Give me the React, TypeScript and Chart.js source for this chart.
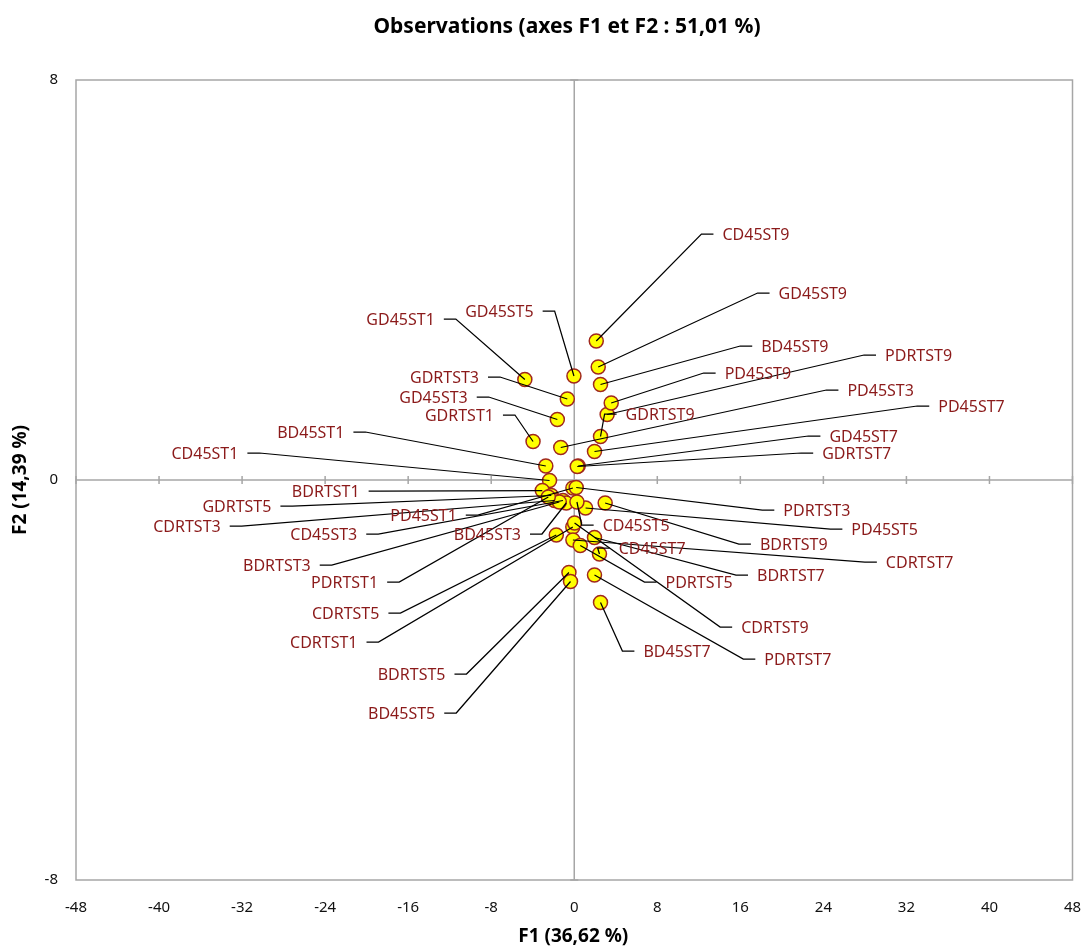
import React, { useEffect, useRef } from "react";
import { Chart, registerables } from "chart.js";
Chart.register(...registerables);

const chartTitle = "Observations (axes F1 et F2 : 51,01 %)";
const xTitle = "F1 (36,62 %)";
const yTitle = "F2 (14,39 %)";

const xTicks = [-48, -40, -32, -24, -16, -8, 0, 8, 16, 24, 32, 40, 48];
const yTicks = [-8, 0, 8];

const names = [
  "CD45ST9", "GD45ST9", "BD45ST9", "PDRTST9", "PD45ST9", "PD45ST3", "PD45ST7", "GDRTST9", "GD45ST7", "GDRTST7",
  "GD45ST1", "GD45ST5", "GDRTST3", "GD45ST3", "GDRTST1", "BD45ST1", "CD45ST1",
  "BDRTST1", "GDRTST5", "CDRTST3", "PD45ST1", "CD45ST3", "BD45ST3", "BDRTST3", "PDRTST1", "CDRTST5", "CDRTST1", "BDRTST5", "BD45ST5",
  "PDRTST3", "PD45ST5", "CD45ST5", "BDRTST9", "CD45ST7", "CDRTST7", "BDRTST7", "PDRTST5", "CDRTST9", "BD45ST7", "PDRTST7",
];

const f1 = [
  2.12, 2.31, 2.53, 3.17, 3.56, -1.3, 1.95, 2.53, 0.38, 0.29,
  -4.76, -0.03, -0.67, -1.63, -3.97, -2.74, -2.38,
  -3.08, -2.21, -1.89, -0.13, -1.09, -0.77, -1.44, -2.5, -1.73, -0.14, -0.51, -0.36,
  0.19, 1.09, 0.26, 2.98, 2.43, -0.13, 1.95, 0.58, 0.03, 2.53, 1.95,
];

const f2 = [
  2.78, 2.26, 1.91, 1.31, 1.54, 0.65, 0.57, 0.87, 0.28, 0.27,
  2.01, 2.08, 1.62, 1.21, 0.77, 0.28, -0.01,
  -0.21, -0.31, -0.41, -0.16, -0.41, -0.46, -0.44, -0.34, -1.1, -0.94, -1.85, -2.03,
  -0.15, -0.56, -0.44, -0.46, -1.48, -1.2, -1.15, -1.31, -0.86, -2.45, -1.9,
];

// label centres, in axis units
const labelX = [
  17.5, 22.98, 21.25, 33.17, 17.69, 29.52, 38.27, 8.27, 27.88, 27.21,
  -16.73, -7.21, -12.5, -13.56, -11.06, -25.38, -35.58,
  -23.94, -32.5, -37.31, -14.52, -24.13, -8.37, -28.65, -22.12, -22.02, -24.13, -15.67, -16.63,
  23.37, 29.9, 5.96, 21.15, 7.5, 33.27, 20.87, 12.02, 19.33, 9.9, 21.54,
];
const labelY = [
  4.9, 3.72, 2.66, 2.48, 2.12, 1.78, 1.46, 1.3, 0.86, 0.52,
  3.2, 3.36, 2.04, 1.64, 1.28, 0.94, 0.52,
  -0.24, -0.54, -0.94, -0.72, -1.1, -1.1, -1.72, -2.06, -2.68, -3.26, -3.9, -4.68,
  -0.62, -1.0, -0.92, -1.3, -1.38, -1.66, -1.92, -2.06, -2.96, -3.44, -3.6,
];

const FONT = '"Noto Sans", "DejaVu Sans", sans-serif';
const LABEL_COLOR = "#8B1A1A";

const overlay = {
  id: "overlay",
  beforeDatasetsDraw(chart: any) {
    const { ctx, chartArea: a, scales } = chart;
    const x = scales.x, y = scales.y;
    ctx.save();
    ctx.strokeStyle = "#A6A6A6";
    ctx.lineWidth = 1.5;
    ctx.strokeRect(a.left, a.top, a.right - a.left, a.bottom - a.top);
    const x0 = x.getPixelForValue(0);
    const y0 = y.getPixelForValue(0);
    ctx.beginPath();
    ctx.moveTo(a.left, y0);
    ctx.lineTo(a.right, y0);
    ctx.moveTo(x0, a.top);
    ctx.lineTo(x0, a.bottom);
    xTicks.forEach((v) => {
      const px = x.getPixelForValue(v);
      ctx.moveTo(px, y0 - 4);
      ctx.lineTo(px, y0 + 4);
    });
    yTicks.forEach((v) => {
      const py = y.getPixelForValue(v);
      ctx.moveTo(x0 - 4, py);
      ctx.lineTo(x0 + 4, py);
    });
    ctx.stroke();
    ctx.restore();
  },
  afterDatasetsDraw(chart: any) {
    const { ctx, scales } = chart;
    const x = scales.x, y = scales.y;
    ctx.save();
    ctx.font = `16px ${FONT}`;
    ctx.textBaseline = "middle";
    ctx.textAlign = "center";
    names.forEach((n, i) => {
      const px = x.getPixelForValue(f1[i]);
      const py = y.getPixelForValue(f2[i]);
      const lx = x.getPixelForValue(labelX[i]);
      const ly = y.getPixelForValue(labelY[i]);
      const w = ctx.measureText(n).width;
      let ax: number, ex: number;
      if (px < lx) {
        ax = lx - w / 2 - 9;
        ex = ax - 12;
      } else {
        ax = lx + w / 2 + 9;
        ex = ax + 12;
      }
      const ay = ly - 1;
      ctx.strokeStyle = "#000000";
      ctx.lineWidth = 1.25;
      ctx.beginPath();
      ctx.moveTo(ax, ay);
      ctx.lineTo(ex, ay);
      ctx.lineTo(px, py);
      ctx.stroke();
    });
    ctx.fillStyle = LABEL_COLOR;
    names.forEach((n, i) => {
      const lx = x.getPixelForValue(labelX[i]);
      const ly = y.getPixelForValue(labelY[i]);
      ctx.fillText(n, lx, ly);
    });
    ctx.restore();
  },
  afterDraw(chart: any) {
    const { ctx, chartArea: a } = chart;
    ctx.save();
    ctx.fillStyle = "#000000";
    ctx.textAlign = "center";
    ctx.textBaseline = "middle";
    ctx.font = `bold 21px ${FONT}`;
    ctx.fillText(chartTitle, 567, 27);
    ctx.font = `bold 19px ${FONT}`;
    ctx.fillText(xTitle, (a.left + a.right) / 2 - 1, 937);
    ctx.translate(21, (a.top + a.bottom) / 2);
    ctx.rotate(-Math.PI / 2);
    ctx.fillText(yTitle, 0, 0);
    ctx.restore();
  },
};

export default function App() {
  const ref = useRef<HTMLCanvasElement>(null);
  useEffect(() => {
    if (!ref.current) return;
    const chart = new Chart(ref.current, {
      type: "scatter",
      data: {
        datasets: [
          {
            label: "Observations",
            data: f1.map((v, i) => ({ x: v, y: f2[i] })),
            pointRadius: 7,
            pointHoverRadius: 7,
            pointBackgroundColor: "#FFFF00",
            pointBorderColor: "#A0281E",
            pointBorderWidth: 1.5,
          },
        ],
      },
      options: {
        responsive: false,
        animation: false,
        devicePixelRatio: 1,
        layout: { padding: { top: 80, right: 8, left: 0, bottom: 0 } },
        plugins: { legend: { display: false }, title: { display: false }, tooltip: { enabled: false } },
        scales: {
          x: {
            type: "linear",
            min: -48,
            max: 48,
            afterBuildTicks: (s: any) => {
              s.ticks = xTicks.map((v) => ({ value: v }));
            },
            afterFit: (s: any) => {
              s.height = 68;
              s.paddingLeft = 0;
              s.paddingRight = 0;
            },
            grid: { display: false, drawTicks: false },
            border: { display: false },
            ticks: {
              autoSkip: false,
              maxRotation: 0,
              padding: 19,
              color: "#111111",
              font: { family: FONT, size: 15 },
            },
          },
          y: {
            type: "linear",
            min: -8,
            max: 8,
            afterBuildTicks: (s: any) => {
              s.ticks = yTicks.map((v) => ({ value: v }));
            },
            afterFit: (s: any) => {
              s.width = 76;
              s.paddingTop = 0;
              s.paddingBottom = 0;
            },
            grid: { display: false, drawTicks: false },
            border: { display: false },
            ticks: {
              autoSkip: false,
              padding: 18,
              color: "#111111",
              font: { family: FONT, size: 15 },
            },
          },
        },
      },
      plugins: [overlay],
    });
    return () => chart.destroy();
  }, []);
  return (
    <div style={{ position: "fixed", left: 0, top: 0, width: 1081, height: 948, background: "#ffffff" }}>
      <canvas ref={ref} width={1081} height={948} />
    </div>
  );
}
